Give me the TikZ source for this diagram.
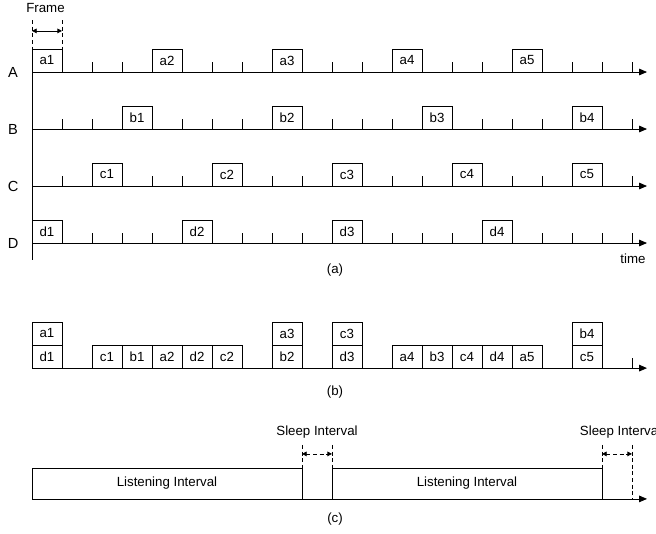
\documentclass[tikz,border=0pt]{standalone}
\usepackage{fontspec}
\setmainfont{Liberation Sans}
\usetikzlibrary{arrows.meta}

\begin{document}
\begin{tikzpicture}[x=0.79375cm, y=0.79375cm,
    every node/.style={font=\fontsize{10}{12}\selectfont},
    slot/.style={draw, anchor=south west, minimum width=0.79375cm,
                 minimum height=0.61cm, inner sep=0pt, outer sep=0pt, line width=0.6pt},
    listen/.style={draw, anchor=south west, minimum width=7.14375cm,
                   minimum height=0.82cm, inner sep=0pt, outer sep=0pt, line width=0.6pt},
    axis/.style={-{Triangle[length=6pt, width=5pt]}, line width=0.6pt},
    tickline/.style={line width=0.6pt},
    span/.style={{Triangle[length=3.5pt, width=3.5pt]}-{Triangle[length=3.5pt, width=3.5pt]}, line width=0.6pt},
    guide/.style={dashed, dash pattern=on 3pt off 2pt, line width=0.6pt},
    lab/.style={font=\fontsize{11}{13}\selectfont}
  ]
  \useasboundingbox (-1.0667,0) rectangle (20.8,-17.767);

  % (a) one time line per node
  \foreach \r/\y in {A/-2.4, B/-4.3, C/-6.2, D/-8.1} {
    \coordinate (\r0) at (0,\y);
    \coordinate (\r1) at (20.5,\y);
    \node[lab] (lab\r) at (-0.63,\y) {\r};
    \draw[axis] (\r0) -- (\r1);
    \foreach \x in {1,...,20}
      \draw[tickline] (\x,\y) -- ++(0,0.33);
  }
  \coordinate (vtop) at (0,-2.4);
  \coordinate (vbot) at (0,-8.667);
  \draw[tickline] (vtop) -- (vbot);

  \node[slot] (a1) at (0,-2.4)  {a1};
  \node[slot] (a2) at (4,-2.4)  {a2};
  \node[slot] (a3) at (8,-2.4)  {a3};
  \node[slot] (a4) at (12,-2.4) {a4};
  \node[slot] (a5) at (16,-2.4) {a5};

  \node[slot] (b1) at (3,-4.3)  {b1};
  \node[slot] (b2) at (8,-4.3)  {b2};
  \node[slot] (b3) at (13,-4.3) {b3};
  \node[slot] (b4) at (18,-4.3) {b4};

  \node[slot] (c1) at (2,-6.2)  {c1};
  \node[slot] (c2) at (6,-6.2)  {c2};
  \node[slot] (c3) at (10,-6.2) {c3};
  \node[slot] (c4) at (14,-6.2) {c4};
  \node[slot] (c5) at (18,-6.2) {c5};

  \node[slot] (d1) at (0,-8.1)  {d1};
  \node[slot] (d2) at (5,-8.1)  {d2};
  \node[slot] (d3) at (10,-8.1) {d3};
  \node[slot] (d4) at (15,-8.1) {d4};

  % frame width marker
  \node (frame) at (0.45,-0.27) {Frame};
  \coordinate (fl0) at (0,-0.67);
  \coordinate (fl1) at (0,-1.63);
  \coordinate (fr0) at (1,-0.67);
  \coordinate (fr1) at (1,-1.63);
  \draw[guide] (fl0) -- (fl1);
  \draw[guide] (fr0) -- (fr1);
  \coordinate (fa) at (0,-1.03);
  \coordinate (fb) at (1,-1.03);
  \draw[span] (fa) -- (fb);

  \node (time) at (20.03,-8.63) {time};
  \node (capa) at (10.1,-9.0) {(a)};

  % (b) merged schedule
  \coordinate (M0) at (0,-12.27);
  \coordinate (M1) at (20.5,-12.27);
  \draw[axis] (M0) -- (M1);
  \draw[tickline] (20,-12.27) -- ++(0,0.33);

  \node[slot] (md1) at (0,-12.27)  {d1};
  \node[slot] (ma1) at (0,-11.5)   {a1};
  \node[slot] (mc1) at (2,-12.27)  {c1};
  \node[slot] (mb1) at (3,-12.27)  {b1};
  \node[slot] (ma2) at (4,-12.27)  {a2};
  \node[slot] (md2) at (5,-12.27)  {d2};
  \node[slot] (mc2) at (6,-12.27)  {c2};
  \node[slot] (mb2) at (8,-12.27)  {b2};
  \node[slot] (ma3) at (8,-11.5)   {a3};
  \node[slot] (md3) at (10,-12.27) {d3};
  \node[slot] (mc3) at (10,-11.5)  {c3};
  \node[slot] (ma4) at (12,-12.27) {a4};
  \node[slot] (mb3) at (13,-12.27) {b3};
  \node[slot] (mc4) at (14,-12.27) {c4};
  \node[slot] (md4) at (15,-12.27) {d4};
  \node[slot] (ma5) at (16,-12.27) {a5};
  \node[slot] (mc5) at (18,-12.27) {c5};
  \node[slot] (mb4) at (18,-11.5)  {b4};

  \node (capb) at (10.1,-13.07) {(b)};

  % (c) listening and sleep intervals
  \coordinate (L0) at (0,-16.63);
  \coordinate (L1) at (20.5,-16.63);
  \draw[axis] (L0) -- (L1);

  \node[listen] (li1) at (0,-16.63)  {Listening Interval};
  \node[listen] (li2) at (10,-16.63) {Listening Interval};

  \node (sleep1) at (9.5,-14.4)  {Sleep Interval};
  \node (sleep2) at (19.62,-14.4) {Sleep Interval};
  \coordinate (s1a) at (9,-14.83);
  \coordinate (s1b) at (9,-15.6);
  \coordinate (s2a) at (10,-14.83);
  \coordinate (s2b) at (10,-15.6);
  \coordinate (s3a) at (19,-14.83);
  \coordinate (s3b) at (19,-15.6);
  \coordinate (s4a) at (20,-14.83);
  \coordinate (s4b) at (20,-16.63);
  \draw[guide] (s1a) -- (s1b);
  \draw[guide] (s2a) -- (s2b);
  \draw[guide] (s3a) -- (s3b);
  \draw[guide] (s4a) -- (s4b);
  \coordinate (sa) at (9,-15.13);
  \coordinate (sb) at (10,-15.13);
  \coordinate (sc) at (19,-15.13);
  \coordinate (sd) at (20,-15.13);
  \draw[span, guide] (sa) -- (sb);
  \draw[span, guide] (sc) -- (sd);

  \node (capc) at (10.1,-17.3) {(c)};
\end{tikzpicture}
\end{document}
